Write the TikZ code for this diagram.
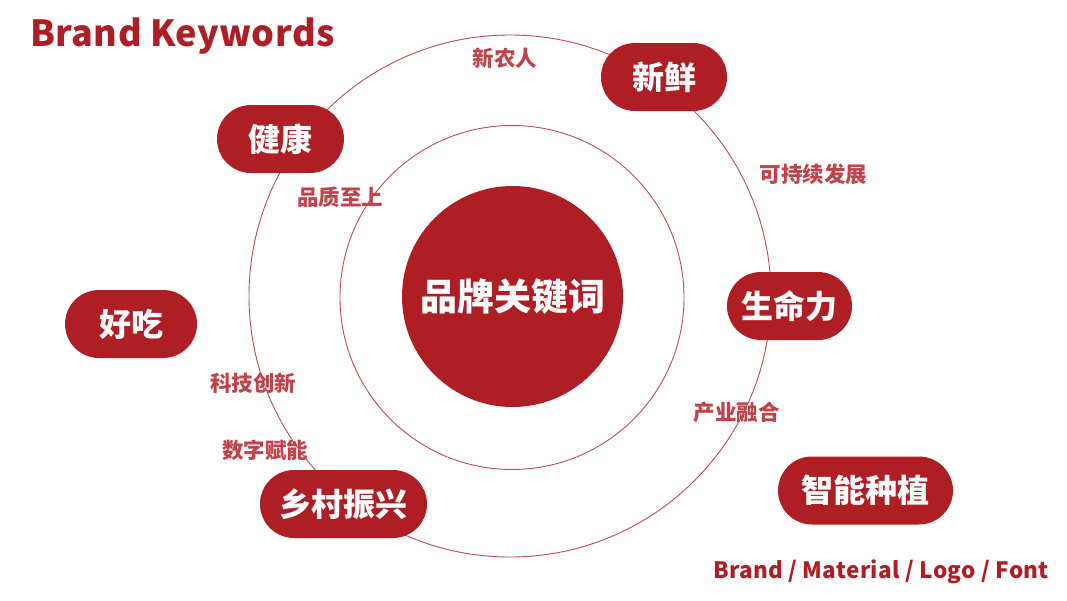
\documentclass[tikz,border=0pt]{standalone}
\usepackage{fontspec}
\setmainfont{Noto Sans CJK SC}
\definecolor{brand}{HTML}{AF1E24}
\definecolor{lbl}{HTML}{C0434A}
\begin{document}
\begin{tikzpicture}[x=1pt,y=-1pt,
  pill/.style={fill=brand, rounded corners=34pt, minimum height=68pt, inner sep=0pt,
    text=white, font=\fontsize{32}{32}\selectfont\bfseries},
  lab/.style={text=lbl, inner sep=0pt, font=\fontsize{21.5}{22}\selectfont\bfseries},
  ring/.style={draw=brand!80, line width=0.9pt},
  heading/.style={text=brand, inner sep=0pt, font=\fontsize{36}{36}\selectfont\bfseries\addfontfeature{LetterSpace=1.3}}]
\useasboundingbox (0,0) rectangle (1067,600);
% rings
\draw[ring] (510,296) circle[radius=261];
\draw[ring] (512,297.5) circle[radius=172];
\node[circle, fill=brand, minimum size=221pt, inner sep=0pt, text=white,
  font=\fontsize{37}{37}\selectfont\bfseries] (core) at (512.5,296.5) {品牌关键词};
% pills
\node[pill, minimum width=126pt] (xx) at (664,77) {新鲜};
\node[pill, minimum width=127pt] (jk) at (280.5,139) {健康};
\node[pill, minimum width=132pt] (hc) at (131,324) {好吃};
\node[pill, minimum width=125pt] (sml) at (789.5,306) {生命力};
\node[pill, minimum width=167pt] (xc) at (343.5,504) {乡村振兴};
\node[pill, minimum width=175pt] (zn) at (865.5,490.5) {智能种植};
% small labels
\node[lab] (l1) at (505,58) {新农人};
\node[lab] (l2) at (813.5,174) {可持续发展};
\node[lab] (l3) at (340,197) {品质至上};
\node[lab] (l4) at (253,383) {科技创新};
\node[lab] (l5) at (265,450) {数字赋能};
\node[lab] (l6) at (736.5,412) {产业融合};
% headings
\node[heading, anchor=base west] (title) at (30,46) {Brand Keywords};
\node[heading, anchor=base west, font=\fontsize{22.5}{23}\selectfont\bfseries\addfontfeature{LetterSpace=1.6}] (foot) at (713,578) {Brand / Material / Logo / Font};
\end{tikzpicture}
\end{document}
